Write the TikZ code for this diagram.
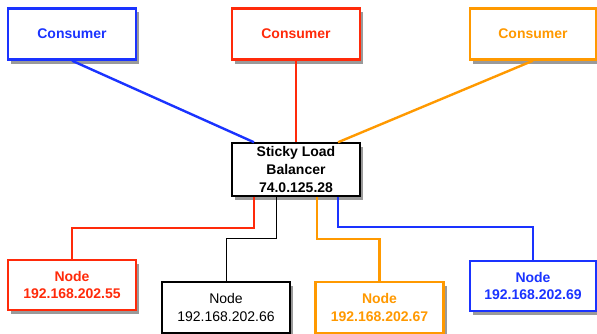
\documentclass[tikz,border=0pt]{standalone}
\usepackage{fontspec}
\setmainfont{Liberation Sans}
\definecolor{cblue}{HTML}{1A33FF}
\definecolor{cred}{HTML}{FF2A0A}
\definecolor{corange}{HTML}{FF9900}
\definecolor{shade}{HTML}{9A9A9A}
\tikzset{
  box/.style={draw,fill=white,minimum width=128pt,minimum height=51pt,align=center,
    font=\fontsize{14}{17.5}\selectfont,
    preaction={draw=none,fill=shade,transform canvas={xshift=3pt,yshift=-4pt}}},
  cbox/.style={box,draw=#1,text=#1,line width=2.4pt,font=\fontsize{14}{17.5}\selectfont\bfseries},
  wire/.style={line width=2.4pt,draw=#1},
}
\begin{document}
\begin{tikzpicture}[x=1pt,y=1pt]
\useasboundingbox (0,0) rectangle (597,333);

% consumers
\node[cbox=cblue] (c1) at (72,299) {Consumer};
\node[cbox=cred] (c2) at (296,299) {Consumer};
\node[cbox=corange,minimum width=126pt] (c3) at (533,299) {Consumer};

% balancer
\node[box,line width=1.5pt,font=\fontsize{14}{18}\selectfont\bfseries] (lb) at (296,163.5) {Sticky Load\\Balancer\\74.0.125.28};

% nodes
\node[cbox=cred,minimum height=50pt] (n1) at (72,48) {Node\\192.168.202.55};
\node[box,line width=1.2pt] (n2) at (226,25.5) {Node\\192.168.202.66};
\node[cbox=corange] (n3) at (379.5,25.5) {Node\\192.168.202.67};
\node[cbox=cblue,minimum width=126pt,minimum height=50pt] (n4) at (533,47) {Node\\192.168.202.69};

% upper wires
\draw[wire=cblue] (c1.south) -- ([xshift=-42pt]lb.north);
\draw[wire=cred] (c2.south) -- (lb.north);
\draw[wire=corange] (c3.south) -- ([xshift=42pt]lb.north);

% lower wires
\draw[wire=cred] ([xshift=-42pt]lb.south) -- ++(0,-31) -| (n1.north);
\draw[line width=1pt] ([xshift=-20pt]lb.south) -- ++(0,-42) -| (n2.north);
\draw[wire=corange] ([xshift=21pt]lb.south) -- ++(0,-42) -| (n3.north);
\draw[wire=cblue] ([xshift=42pt]lb.south) -- ++(0,-30) -| (n4.north);

\end{tikzpicture}
\end{document}
